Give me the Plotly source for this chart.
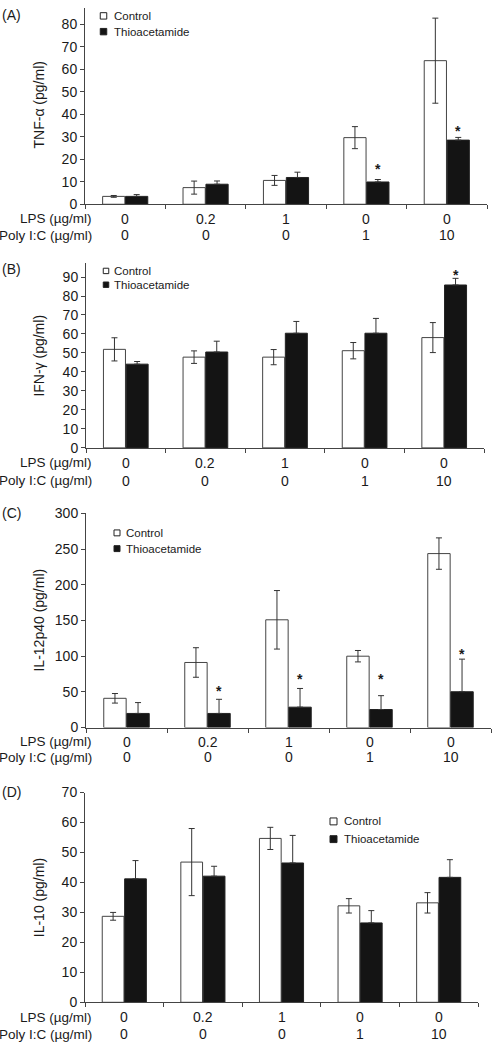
import plotly.graph_objects as go

W, H = 492, 1050

lps_labels = ["0", "0.2", "1", "0", "0"]
poly_labels = ["0", "0", "0", "1", "10"]
categories = [0, 1, 2, 3, 4]

tnf_control = [3.5, 7.4, 10.6, 29.6, 63.8]
tnf_control_err = [0.4, 2.9, 2.2, 4.9, 18.9]
tnf_thio = [3.5, 8.9, 11.9, 9.9, 28.5]
tnf_thio_err = [0.8, 1.45, 2.35, 1.1, 1.2]
tnf_star = [None, None, None, 16.0, 32.9]

ifn_control = [51.9, 47.8, 47.8, 51.2, 58.1]
ifn_control_err = [6.1, 3.3, 4.0, 4.3, 7.9]
ifn_thio = [44.1, 50.5, 60.4, 60.4, 85.8]
ifn_thio_err = [1.4, 5.7, 6.2, 7.8, 3.5]
ifn_star = [None, None, None, None, 91.7]

il12_control = [41.0, 91.2, 151.0, 100.0, 243.8]
il12_control_err = [6.7, 20.7, 41.0, 8.0, 22.0]
il12_thio = [19.8, 19.8, 28.6, 25.3, 50.2]
il12_thio_err = [15.2, 19.8, 26.2, 19.4, 45.7]
il12_star = [None, 52.0, 69.0, 69.0, 104.0]

il10_control = [28.7, 46.8, 54.7, 32.2, 33.2]
il10_control_err = [1.3, 11.2, 3.7, 2.4, 3.4]
il10_thio = [41.2, 42.1, 46.5, 26.5, 41.7]
il10_thio_err = [6.1, 3.3, 9.2, 4.1, 5.9]
il10_star = [None, None, None, None, None]


def xp(px):
    return px / W


def yp(py):
    return 1 - py / H


FONT = "Liberation Sans, Arial, sans-serif"
TXT = "#1a1a1a"
LINE = "#444444"
BARGAP = 0.43
HALF = (1 - BARGAP) / 4

panels = [
    dict(letter="(A)", title="TNF-α (pg/ml)", c=tnf_control, ce=tnf_control_err,
         t=tnf_thio, te=tnf_thio_err, star=tnf_star,
         x0=85, x1=487, y0=199.3, y1=0.0, rng=[0, 87.2], dtick=10,
         letter_y=7, title_y=99, rows=(214, 231), leg_sq_x=103.5, leg_txt_x=112, leg_y=(8, 24), sq=6.5),
    dict(letter="(B)", title="IFN-γ (pg/ml)", c=ifn_control, ce=ifn_control_err,
         t=ifn_thio, te=ifn_thio_err, star=ifn_star,
         x0=86, x1=484, y0=446.7, y1=259.3, rng=[0, 97.2], dtick=10,
         letter_y=265, title_y=353, rows=(462, 480), leg_sq_x=106, leg_txt_x=112, leg_y=(267, 281), sq=5.5),
    dict(letter="(C)", title="IL-12p40 (pg/ml)", c=il12_control, ce=il12_control_err,
         t=il12_thio, te=il12_thio_err, star=il12_star,
         x0=86, x1=491, y0=730.7, y1=513.3, rng=[0, 300], dtick=50,
         letter_y=513, title_y=622, rows=(745, 761), leg_sq_x=117, leg_txt_x=124, leg_y=(533, 549), sq=6),
    dict(letter="(D)", title="IL-10 (pg/ml)", c=il10_control, ce=il10_control_err,
         t=il10_thio, te=il10_thio_err, star=il10_star,
         x0=85, x1=478, y0=1009.7, y1=796.7, rng=[0, 70], dtick=10,
         letter_y=796, title_y=904, rows=(1025, 1042), leg_sq_x=333.5, leg_txt_x=342, leg_y=(826, 844), sq=7),
]

fig = go.Figure()
annotations = []
shapes = []
layout = {}

for i, p in enumerate(panels):
    n = "" if i == 0 else str(i + 1)
    xa, ya = "x" + n, "y" + n
    fig.add_trace(go.Bar(
        x=categories, y=p["c"], xaxis=xa, yaxis=ya, name="Control", showlegend=False,
        marker=dict(color="white", line=dict(color=LINE, width=1)),
        error_y=dict(type="data", array=p["ce"], symmetric=True, color="#333333", thickness=1, width=3),
        hoverinfo="skip",
    ))
    fig.add_trace(go.Bar(
        x=categories, y=p["t"], xaxis=xa, yaxis=ya, name="Thioacetamide", showlegend=False,
        marker=dict(color="#141414", line=dict(color="#222222", width=1)),
        error_y=dict(type="data", array=p["te"], arrayminus=[0] * len(p["te"]), symmetric=False,
                     color="#333333", thickness=1, width=3),
        hoverinfo="skip",
    ))
    layout["xaxis" + n] = dict(
        domain=[xp(p["x0"]), xp(p["x1"])], anchor=ya, range=[-0.5, 4.5],
        tickmode="array", tickvals=[-0.5, 0.5, 1.5, 2.5, 3.5, 4.5], showticklabels=False,
        ticks="outside", ticklen=4, tickcolor=LINE, showline=True, linecolor=LINE, linewidth=1,
        showgrid=False, zeroline=False, fixedrange=True,
    )
    layout["yaxis" + n] = dict(
        domain=[yp(p["y0"]), yp(p["y1"])], anchor=xa, range=p["rng"], dtick=p["dtick"], tick0=0,
        ticks="outside", ticklen=4, tickcolor=LINE, showline=True, linecolor=LINE, linewidth=1,
        showgrid=False, zeroline=False, tickfont=dict(family=FONT, size=14, color=TXT),
        fixedrange=True,
    )
    # stars
    for k, s in enumerate(p["star"]):
        if s is not None:
            annotations.append(dict(x=categories[k] + HALF, y=s, xref=xa, yref=ya, text="<b>*</b>",
                                    showarrow=False, yanchor="middle", yshift=-1,
                                    font=dict(family=FONT, size=14, color=TXT)))
    # category labels
    for k in range(len(categories)):
        for row, labels in zip(p["rows"], (lps_labels, poly_labels)):
            annotations.append(dict(x=categories[k], y=yp(row), xref=xa, yref="paper",
                                    text=labels[k], showarrow=False, yanchor="middle",
                                    font=dict(family=FONT, size=14, color=TXT)))
    for row, lab in zip(p["rows"], ("LPS (µg/ml)", "Poly I:C (µg/ml)")):
        annotations.append(dict(x=xp(94), y=yp(row), xref="paper", yref="paper", text=lab,
                                showarrow=False, xanchor="right", yanchor="middle",
                                font=dict(family=FONT, size=13.5, color=TXT)))
    # panel letter
    annotations.append(dict(x=0, y=yp(p["letter_y"]), xref="paper", yref="paper", text=p["letter"],
                            showarrow=False, xanchor="left", yanchor="middle",
                            font=dict(family=FONT, size=14, color=TXT)))
    # y title
    annotations.append(dict(x=xp(39), y=yp(p["title_y"]), xref="paper", yref="paper", text=p["title"],
                            showarrow=False, textangle=-90, xanchor="center", yanchor="middle",
                            font=dict(family=FONT, size=14, color=TXT)))
    # legend
    for ly, lab, fill in zip(p["leg_y"], ("Control", "Thioacetamide"), ("white", "#141414")):
        h = p["sq"] / 2
        shapes.append(dict(type="rect", xref="paper", yref="paper",
                           x0=xp(p["leg_sq_x"] - h), x1=xp(p["leg_sq_x"] + h),
                           y0=yp(ly + h), y1=yp(ly - h),
                           fillcolor=fill, line=dict(color="#222222", width=1)))
        annotations.append(dict(x=xp(p["leg_txt_x"]), y=yp(ly), xref="paper", yref="paper", text=lab,
                                showarrow=False, xanchor="left", yanchor="middle",
                                font=dict(family=FONT, size=11.5, color=TXT)))

fig.update_layout(
    width=W, height=H, margin=dict(l=0, r=0, t=0, b=0),
    paper_bgcolor="white", plot_bgcolor="white",
    barmode="group", bargap=BARGAP, bargroupgap=0.03,
    showlegend=False, annotations=annotations, shapes=shapes,
    font=dict(family=FONT, color=TXT), hovermode=False,
    **layout,
)

fig.write_html(
    "out.html",
    config={"displayModeBar": False},
    post_script="document.body.style.margin='0';document.body.style.padding='0';document.body.style.overflow='hidden';",
)
